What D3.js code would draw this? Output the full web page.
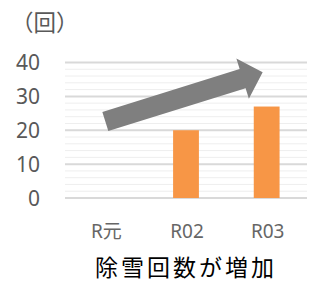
<!DOCTYPE html>
<html>
<head>
<meta charset="utf-8">
<style>
  body { margin: 0; background: #fff; }
  text { font-family: "Noto Sans", "Noto Sans CJK JP", sans-serif; }
</style>
</head>
<body>
<svg></svg>
<script src="https://d3js.org/d3.v7.min.js"></script>
<script>
const categories = ["R元", "R02", "R03"];
const values = [null, 20, 27];
const yTicks = [0, 10, 20, 30, 40];
const unitLabel = "（回）";
const caption = "除雪回数が増加";
// trend arrow annotation, in data terms
const arrowFrom = { cat: "R元", v: 22.6 };
const arrowTo = { cat: "R03", v: 37.1 };

const width = 315, height = 282;
const svg = d3.select("svg").attr("width", width).attr("height", height);

const x = d3.scaleBand().domain(categories).range([65, 307])
  .paddingInner(0.68).paddingOuter(0.34);
const y = d3.scaleLinear().domain([0, 40]).range([198, 62.5]);

// minor gridlines every 2
svg.append("g").selectAll("line")
  .data(d3.range(0, 41, 2).filter(d => d % 10 !== 0))
  .enter().append("line")
  .attr("x1", 65).attr("x2", 307)
  .attr("y1", d => y(d)).attr("y2", d => y(d))
  .attr("stroke", "#eeeeee").attr("stroke-width", 1);

// major gridlines
svg.append("g").selectAll("line")
  .data(yTicks)
  .enter().append("line")
  .attr("x1", 65).attr("x2", 307)
  .attr("y1", d => y(d)).attr("y2", d => y(d))
  .attr("stroke", "#d9d9d9").attr("stroke-width", 2);

// y tick labels
svg.append("g").selectAll("text")
  .data(yTicks)
  .enter().append("text")
  .attr("x", 40).attr("y", d => y(d))
  .attr("dy", "0.36em")
  .attr("text-anchor", "end")
  .attr("fill", "#595959")
  .style("font-size", "21px")
  .text(d => d);

// bars
const barData = categories.map((c, i) => ({ c, v: values[i] })).filter(d => d.v != null);
svg.append("g").selectAll("rect")
  .data(barData)
  .enter().append("rect")
  .attr("x", d => x(d.c))
  .attr("width", x.bandwidth())
  .attr("y", d => y(d.v))
  .attr("height", d => y(0) - y(d.v))
  .attr("fill", "#f79646");

// x labels
svg.append("g").selectAll("text")
  .data(categories)
  .enter().append("text")
  .attr("x", d => x(d) + x.bandwidth() / 2 + 1)
  .attr("y", 238)
  .attr("text-anchor", "middle")
  .attr("fill", "#666666")
  .style("font-size", "19px")
  .text(d => d);

// arrow
const x0 = x(arrowFrom.cat) + x.bandwidth() / 2, y0 = y(arrowFrom.v);
const x1 = x(arrowTo.cat) + x.bandwidth() / 2 - 4, y1 = y(arrowTo.v);
const len = Math.hypot(x1 - x0, y1 - y0);
const ang = Math.atan2(y1 - y0, x1 - x0) * 180 / Math.PI;
const hw = 10, headLen = 21, headHw = 21;
const arrowPts = [
  [0, -hw], [len - headLen, -hw], [len - headLen, -headHw], [len, 0],
  [len - headLen, headHw], [len - headLen, hw], [0, hw]
];
svg.append("path")
  .attr("transform", `translate(${x0},${y0}) rotate(${ang})`)
  .attr("d", d3.line()(arrowPts) + "Z")
  .attr("fill", "#7f7f7f");

// unit label
svg.append("text")
  .attr("x", 11).attr("y", 31)
  .attr("fill", "#595959")
  .style("font-family", "'Noto Sans CJK JP'")
  .style("font-size", "22.5px")
  .text(unitLabel);

// caption
svg.append("text")
  .attr("x", 186).attr("y", 276)
  .attr("text-anchor", "middle")
  .attr("fill", "#000")
  .style("font-family", "'Noto Sans CJK JP'")
  .style("font-size", "23px")
  .style("letter-spacing", "3px")
  .text(caption);
</script>
</body>
</html>
